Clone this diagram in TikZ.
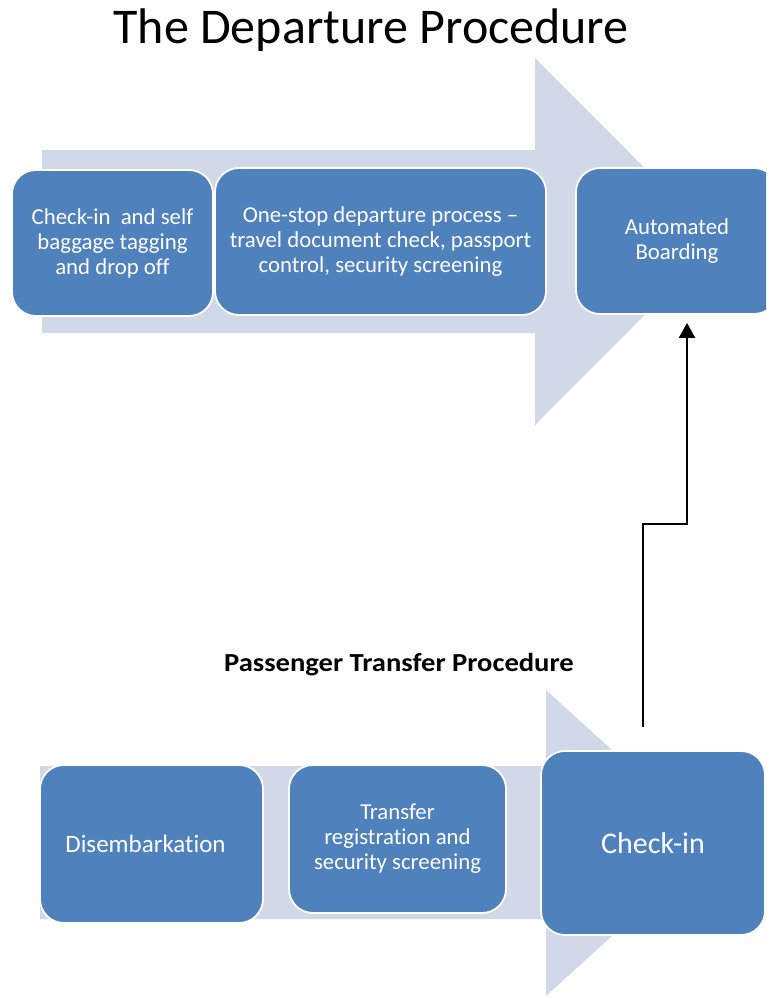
\documentclass[tikz,border=0pt]{standalone}
\usepackage{fontspec}
\setmainfont{Carlito}[Ligatures=NoCommon]
\usetikzlibrary{arrows.meta}
\definecolor{boxblue}{HTML}{4F81BD}
\definecolor{flowgrey}{HTML}{D1D8E7}
\begin{document}
\begin{tikzpicture}[x=1pt,y=-1pt,
  flow/.style={fill=flowgrey},
  stepbox/.style={draw=white, line width=1.8pt, fill=boxblue, rounded corners=24pt,
    text=white, align=center, inner sep=0pt, font=\fontsize{22.8}{25}\selectfont},
  conn/.style={draw=black, line width=2pt, -{Triangle[length=15pt,width=16pt]}}]
\useasboundingbox (0,0) rectangle (766,998);
\clip (0,0) rectangle (766,998);

% titles
\node[font=\fontsize{50}{56}\selectfont] (title) at (371,30) {The Departure Procedure};
\node[font=\bfseries\fontsize{26}{28}\selectfont] (subtitle) at (399,665)
  {\scalebox{1.1}[1]{Passenger Transfer Procedure}};

% departure process arrow
\fill[flow] (42,150) -- (535,150) -- (535,58) -- (718,241.5) -- (535,425) -- (535,333) -- (42,333) -- cycle;

\node[stepbox, minimum width=201pt, minimum height=146pt] (checkself) at (112.5,243)
  {Check-in\ \ and self\\baggage tagging\\and drop off};
\node[stepbox, minimum width=331pt, minimum height=147pt] (onestop) at (380.5,241.5)
  {One-stop departure process --\\travel document check, passport\\control, security screening};
\node[stepbox, minimum width=202pt, minimum height=146pt] (boarding) at (677,241)
  {Automated\\Boarding};

% transfer process arrow
\fill[flow] (40,766) -- (546,766) -- (546,690) -- (714,843) -- (546,996) -- (546,919) -- (40,919) -- cycle;

\node[stepbox, minimum width=223pt, minimum height=158pt, font=\fontsize{25}{28}\selectfont] (disembark) at (151.5,844)
  {\hspace*{-12pt}Disembarkation};
\node[stepbox, minimum width=217pt, minimum height=148pt] (transfer) at (397.5,839)
  {Transfer\\registration and\\security screening};
\node[stepbox, minimum width=224pt, minimum height=184pt, font=\fontsize{30}{32}\selectfont] (checkin) at (653,843)
  {Check-in};

% link from transfer check-in to boarding
\coordinate (tail) at (643,727);
\coordinate (bend) at (687,524);
\draw[conn, shorten >=8pt] (tail) |- (bend) -- (bend |- boarding.south);
\end{tikzpicture}
\end{document}
